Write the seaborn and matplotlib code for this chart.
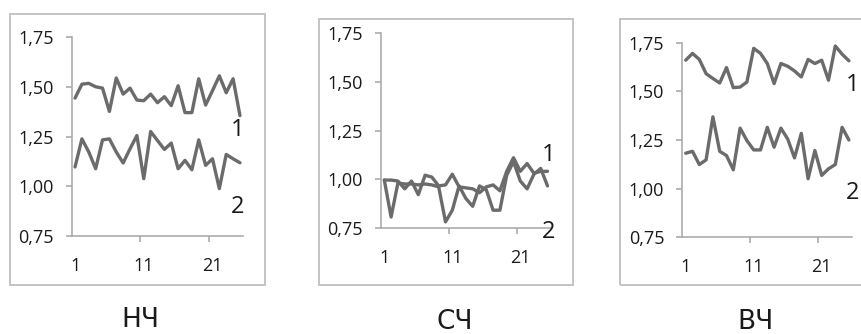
import numpy as np
import pandas as pd
import matplotlib
matplotlib.use("Agg")
import matplotlib.pyplot as plt
from matplotlib.patches import Rectangle
import seaborn as sns

# ---------------- data ----------------
points = list(range(1, 26))
panel_titles = ["НЧ", "СЧ", "ВЧ"]
y_ticks = [0.75, 1.00, 1.25, 1.50, 1.75]
y_tick_labels = ["0,75", "1,00", "1,25", "1,50", "1,75"]
x_ticks = [1, 11, 21]
x_tick_labels = ["1", "11", "21"]
series_labels = ["1", "2"]

nch_1 = [1.443, 1.513, 1.517, 1.500, 1.493, 1.376, 1.544, 1.463, 1.493, 1.433,
         1.430, 1.463, 1.420, 1.450, 1.405, 1.505, 1.370, 1.370, 1.540, 1.408,
         1.480, 1.555, 1.470, 1.540, 1.355]
nch_2 = [1.097, 1.238, 1.172, 1.088, 1.233, 1.238, 1.172, 1.117, 1.188, 1.255,
         1.038, 1.275, 1.230, 1.185, 1.217, 1.088, 1.130, 1.083, 1.233, 1.105,
         1.138, 0.988, 1.160, 1.138, 1.118]

sch_1 = [0.995, 0.995, 0.990, 0.950, 0.990, 0.920, 1.020, 1.010, 0.965, 0.970,
         1.025, 0.960, 0.955, 0.950, 0.930, 0.960, 0.970, 0.940, 1.040, 1.110,
         1.040, 1.080, 1.030, 1.040, 1.040]
sch_2 = [0.995, 0.805, 0.980, 0.975, 0.975, 0.970, 0.975, 0.970, 0.960, 0.780,
         0.840, 0.965, 0.900, 0.860, 0.965, 0.945, 0.840, 0.840, 1.020, 1.090,
         0.990, 0.950, 1.025, 1.055, 0.965]

vch_1 = [1.660, 1.695, 1.664, 1.591, 1.566, 1.543, 1.622, 1.519, 1.522, 1.548,
         1.721, 1.695, 1.643, 1.540, 1.643, 1.629, 1.605, 1.574, 1.664, 1.643,
         1.660, 1.557, 1.733, 1.691, 1.657]
vch_2 = [1.182, 1.192, 1.124, 1.148, 1.369, 1.192, 1.170, 1.097, 1.311, 1.247,
         1.199, 1.199, 1.315, 1.213, 1.311, 1.255, 1.158, 1.284, 1.051, 1.196,
         1.068, 1.102, 1.124, 1.315, 1.250]

panels_data = [(nch_1, nch_2), (sch_1, sch_2), (vch_1, vch_2)]

# ---------------- style ----------------
sns.set_style("white")
plt.rcParams["font.family"] = ["Open Sans", "DejaVu Sans"]

LINE = "#6b6b6b"
AXIS = "#a6a6a6"
FRAME = "#c4c4c4"
TEXT = "#1a1a1a"

W, H = 861, 334
fig = plt.figure(figsize=(W / 100, H / 100), dpi=100)

def fx(px):
    return px / W

def fy(py):
    return 1 - py / H

# axes rectangles in pixel coordinates: (left, right, top, bottom)
axes_px = [(71.6, 243.4, 37.0, 236.0),
           (380.9, 550.9, 33.3, 227.7),
           (682.3, 852.3, 42.7, 237.3)]
frames_px = [(10, 265, 14, 285),
             (319, 573, 19, 285),
             (620, 875, 19, 285)]
title_px = [(140, 320), (455, 322), (755, 322)]
label_pos = [((24.6, 1.283), (24.6, 0.896)),
             ((25.2, 1.124), (25.2, 0.728)),
             ((25.5, 1.533), (25.5, 0.978))]

for (fl, fr, ft, fb) in frames_px:
    fig.patches.append(Rectangle((fx(fl), fy(fb)), fx(fr - fl), (fb - ft) / H,
                                 transform=fig.transFigure, fill=False,
                                 edgecolor=FRAME, linewidth=1.4, zorder=0))

for i, ((l, r, t, b), (s1, s2)) in enumerate(zip(axes_px, panels_data)):
    ax = fig.add_axes([fx(l), fy(b), fx(r - l), (b - t) / H])
    ax.patch.set_alpha(0)
    df = pd.DataFrame({"x": points * 2,
                       "y": list(s1) + list(s2),
                       "s": [series_labels[0]] * len(points) + [series_labels[1]] * len(points)})
    sns.lineplot(data=df, x="x", y="y", hue="s", palette=[LINE, LINE],
                 linewidth=2.4, ax=ax, legend=False, clip_on=False)
    ax.set_xlim(0.5, 25.5)
    ax.set_ylim(0.75, 1.75)
    ax.set_xlabel("")
    ax.set_ylabel("")
    ax.set_yticks(y_ticks)
    ax.set_yticklabels(y_tick_labels)
    ax.set_xticks(x_ticks)
    ax.set_xticklabels(x_tick_labels)
    ax.set_xticks([10.5, 20.5], minor=True)
    for side in ["top", "right"]:
        ax.spines[side].set_visible(False)
    for side in ["left", "bottom"]:
        ax.spines[side].set_color(AXIS)
        ax.spines[side].set_linewidth(1.1)
    ax.tick_params(axis="y", which="major", length=4, width=1.1, color=AXIS,
                   pad=9, labelsize=13, labelcolor=TEXT, direction="out", left=True)
    ax.tick_params(axis="x", which="major", length=0, pad=15,
                   labelsize=13, labelcolor=TEXT, bottom=True)
    ax.tick_params(axis="x", which="minor", length=4, width=1.1, color=AXIS,
                   direction="out", bottom=True)
    (p1, p2) = label_pos[i]
    ax.text(p1[0], p1[1], series_labels[0], ha="center", va="center",
            fontsize=17, color=TEXT, clip_on=False)
    ax.text(p2[0], p2[1], series_labels[1], ha="center", va="center",
            fontsize=17, color=TEXT, clip_on=False)
    tx, ty = title_px[i]
    fig.text(fx(tx), fy(ty), panel_titles[i], ha="center", va="center",
             fontsize=19, color=TEXT, family=["DejaVu Sans"])

fig.savefig("out.png", dpi=100, facecolor="white")
